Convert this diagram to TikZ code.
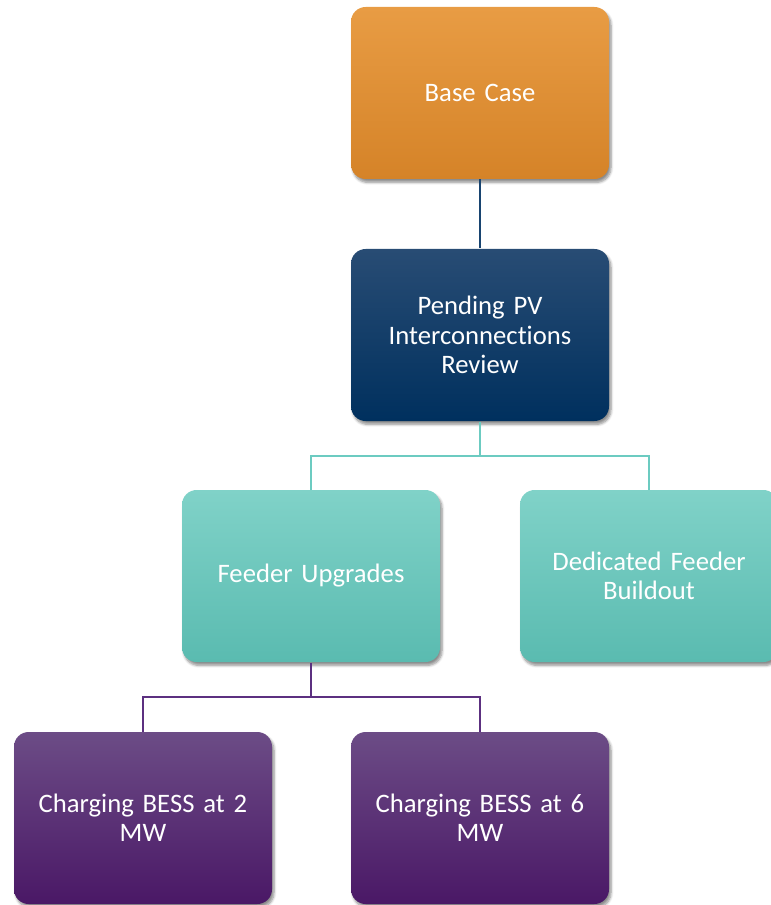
\documentclass[tikz,border=0pt]{standalone}
\usepackage{fontspec}
\setmainfont{Carlito}[Ligatures=NoCommon]
\usetikzlibrary{shadows.blur}

\definecolor{baseTop}{RGB}{232,156,68}
\definecolor{baseBot}{RGB}{213,131,40}
\definecolor{navyTop}{RGB}{40,76,116}
\definecolor{navyBot}{RGB}{0,48,94}
\definecolor{tealTop}{RGB}{128,210,200}
\definecolor{tealBot}{RGB}{90,187,176}
\definecolor{plumTop}{RGB}{108,76,134}
\definecolor{plumBot}{RGB}{74,24,102}
\definecolor{navyLine}{RGB}{24,68,112}
\definecolor{tealLine}{RGB}{108,203,193}
\definecolor{plumLine}{RGB}{92,48,128}

\tikzset{
  every picture/.style={line width=0.75pt},
  box/.style={rounded corners=11pt, minimum width=193.5pt, minimum height=129pt,
    text width=180pt, align=center, text=white, inner sep=0pt,
    font=\fontsize{20}{22}\selectfont,
    blur shadow={shadow xshift=1.5pt, shadow yshift=-2.5pt, shadow blur steps=6, shadow opacity=45}},
  basebox/.style={box, top color=baseTop, bottom color=baseBot},
  navybox/.style={box, top color=navyTop, bottom color=navyBot},
  tealbox/.style={box, top color=tealTop, bottom color=tealBot},
  plumbox/.style={box, top color=plumTop, bottom color=plumBot},
  link/.style={line width=1.6pt}
}

\begin{document}
\begin{tikzpicture}[x=0.75pt,y=0.75pt,yscale=-1,xscale=1]
\useasboundingbox (0,0) rectangle (770,905);

% Boxes
\node [basebox] (base) at (480,93) {Base Case};
\node [navybox] (pend) at (480,335) {Pending PV\\Interconnections\\Review};
\node [tealbox] (feed) at (311,576) {Feeder Upgrades};
\node [tealbox] (dedi) at (649,576) {Dedicated Feeder\\Buildout};
\node [plumbox] (bess2) at (143,818) {Charging BESS at 2\\MW};
\node [plumbox] (bess6) at (480,818) {Charging BESS at 6\\MW};

% Branch points
\coordinate (fork1) at (480,456);
\coordinate (fork2) at (311,697);

% Connectors
\draw [link, navyLine] (base.south) -- (pend.north);
\draw [link, tealLine] (pend.south) -- (fork1) -| (feed.north);
\draw [link, tealLine] (fork1) -| (dedi.north);
\draw [link, plumLine] (feed.south) -- (fork2) -| (bess2.north);
\draw [link, plumLine] (fork2) -| (bess6.north);

\end{tikzpicture}
\end{document}
